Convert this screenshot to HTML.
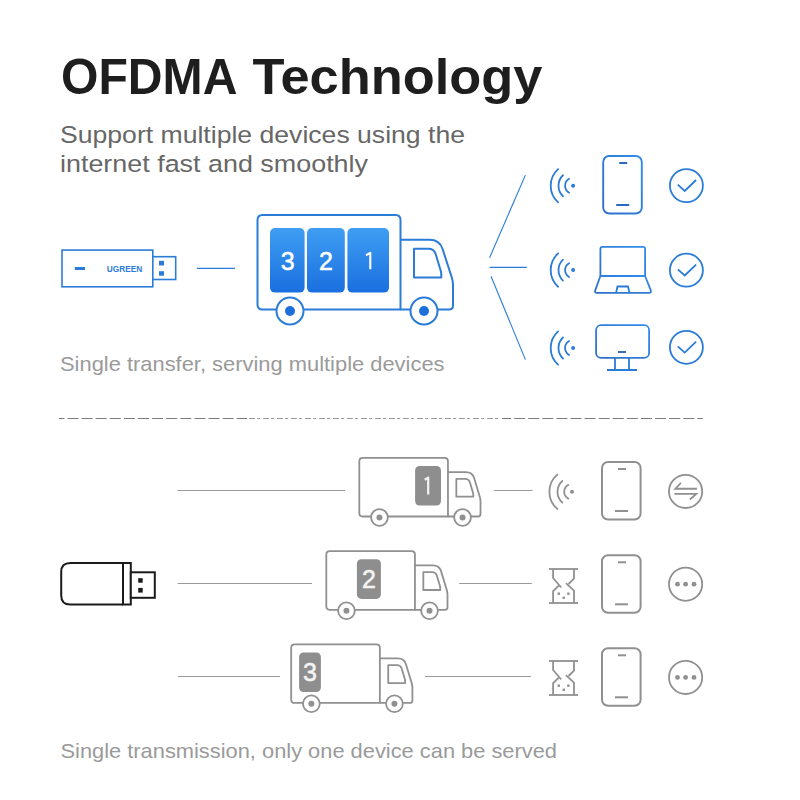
<!DOCTYPE html>
<html><head><meta charset="utf-8"><style>
html,body{margin:0;padding:0;background:#fff;}
svg{display:block;}
text{font-family:"Liberation Sans", sans-serif;}
</style></head><body>
<svg width="800" height="800" viewBox="0 0 800 800">
<rect width="800" height="800" fill="#fff"/>
<defs><linearGradient id="bg" x1="0" y1="0" x2="0" y2="1"><stop offset="0" stop-color="#3f9ef3"/><stop offset="1" stop-color="#1a6fdf"/></linearGradient><linearGradient id="dg" x1="0" y1="1" x2="1" y2="0"><stop offset="0" stop-color="#2d6fc6"/><stop offset="1" stop-color="#338ceb"/></linearGradient></defs>
<text x="61" y="94" font-family="Liberation Sans" font-weight="bold" font-size="50.5" fill="#1e1e1e" textLength="176.5" lengthAdjust="spacingAndGlyphs">OFDMA</text>
<text x="252.4" y="94" font-family="Liberation Sans" font-weight="bold" font-size="50.5" fill="#1e1e1e" textLength="290" lengthAdjust="spacingAndGlyphs">Technology</text>
<text x="60" y="142.5" font-family="Liberation Sans" font-size="24.5" fill="#676767" textLength="405" lengthAdjust="spacingAndGlyphs">Support multiple devices using the</text>
<text x="60" y="172" font-family="Liberation Sans" font-size="24.5" fill="#676767" textLength="308" lengthAdjust="spacingAndGlyphs">internet fast and smoothly</text>
<text x="60" y="370.75" font-family="Liberation Sans" font-size="21" fill="#9a9a9a" textLength="384.5" lengthAdjust="spacingAndGlyphs">Single transfer, serving multiple devices</text>
<text x="60.5" y="757.5" font-family="Liberation Sans" font-size="21" fill="#9a9a9a" textLength="496.5" lengthAdjust="spacingAndGlyphs">Single transmission, only one device can be served</text>
<rect x="62" y="250.1" width="90.8" height="36.7" fill="#fff" stroke="#2b7cd8" stroke-width="1.6"/>
<rect x="152.8" y="256.7" width="22.9" height="22.8" fill="#fff" stroke="#2b7cd8" stroke-width="1.6"/>
<rect x="159" y="260.8" width="5" height="4.7" fill="#2b7cd8"/>
<rect x="159" y="271.2" width="5" height="4.5" fill="#2b7cd8"/>
<rect x="74.8" y="267" width="10.2" height="3" fill="#2b7cd8"/>
<text x="106.7" y="271.7" font-family="Liberation Sans" font-weight="bold" font-size="8.3" fill="#2b7cd8" textLength="35.6" lengthAdjust="spacingAndGlyphs">UGREEN</text>
<line x1="196.8" y1="268.3" x2="235" y2="268.3" stroke="#2b7cd8" stroke-width="1.2"/>
<path d="M 400.50 309.50 L 400.50 220.00 Q 400.50 215.00 395.50 215.00 L 262.50 215.00 Q 257.50 215.00 257.50 220.00 L 257.50 304.50 Q 257.50 309.50 262.50 309.50 Z" fill="#fff" stroke="#2b7cd8" stroke-width="2" stroke-linejoin="round"/>
<rect x="270" y="228" width="34.6" height="64.6" rx="5" fill="url(#bg)"/>
<text x="287.8" y="270" text-anchor="middle" font-family="Liberation Sans" font-size="25" fill="#fff" stroke="#fff" stroke-width="0.5">3</text>
<rect x="307" y="228" width="37.8" height="64.6" rx="5" fill="url(#bg)"/>
<text x="325.9" y="270" text-anchor="middle" font-family="Liberation Sans" font-size="25" fill="#fff" stroke="#fff" stroke-width="0.5">2</text>
<rect x="347.4" y="228" width="41.6" height="64.6" rx="5" fill="url(#bg)"/>
<path d="M 370.3 269.3 V 252.9 L 366 255.2" fill="none" stroke="#fff" stroke-width="2.1" stroke-linejoin="round"/>
<path d="M 400.50 239.70 L 429.50 239.70 Q 439.60 239.70 442.60 249.00 L 451.80 277.50 Q 453.00 281.40 453.00 285.00 L 453.00 305.50 Q 453.00 309.50 449.00 309.50 L 400.50 309.50" fill="none" stroke="#2b7cd8" stroke-width="2" stroke-linejoin="round"/>
<path d="M 414.00 248.70 L 428.50 248.70 Q 433.50 248.70 435.50 253.50 L 440.80 271.00 Q 441.30 273.00 441.30 275.00 L 441.30 277.60 L 414.00 277.60 Z" fill="none" stroke="#2b7cd8" stroke-width="2" stroke-linejoin="round"/>
<circle cx="290.00" cy="311.00" r="13.50" fill="#fff" stroke="#2b7cd8" stroke-width="2"/>
<circle cx="290.00" cy="311.00" r="5.00" fill="#1d6fdc"/>
<circle cx="424.00" cy="311.00" r="13.50" fill="#fff" stroke="#2b7cd8" stroke-width="2"/>
<circle cx="424.00" cy="311.00" r="5.00" fill="#1d6fdc"/>
<line x1="525.4" y1="175.1" x2="489.6" y2="257.7" stroke="#2b7cd8" stroke-width="1.1"/>
<line x1="489.6" y1="267.4" x2="526.8" y2="267.4" stroke="#2b7cd8" stroke-width="1.1"/>
<line x1="491" y1="276.2" x2="525.4" y2="359.6" stroke="#2b7cd8" stroke-width="1.1"/>
<path d="M 558.11 169.10 A 22.4 22.4 0 0 0 558.11 202.40" fill="none" stroke="#2b7cd8" stroke-width="1.8" stroke-linecap="round"/>
<path d="M 562.96 175.25 A 14.6 14.6 0 0 0 562.96 196.25" fill="none" stroke="#2b7cd8" stroke-width="1.8" stroke-linecap="round"/>
<path d="M 569.10 178.82 A 8 8 0 0 0 569.10 192.68" fill="none" stroke="#2b7cd8" stroke-width="1.8" stroke-linecap="round"/>
<circle cx="573.1" cy="185.75" r="2" fill="#2b7cd8"/>
<path d="M 558.11 253.45 A 22.4 22.4 0 0 0 558.11 286.75" fill="none" stroke="#2b7cd8" stroke-width="1.8" stroke-linecap="round"/>
<path d="M 562.96 259.60 A 14.6 14.6 0 0 0 562.96 280.60" fill="none" stroke="#2b7cd8" stroke-width="1.8" stroke-linecap="round"/>
<path d="M 569.10 263.17 A 8 8 0 0 0 569.10 277.03" fill="none" stroke="#2b7cd8" stroke-width="1.8" stroke-linecap="round"/>
<circle cx="573.1" cy="270.1" r="2" fill="#2b7cd8"/>
<path d="M 558.11 331.35 A 22.4 22.4 0 0 0 558.11 364.65" fill="none" stroke="#2b7cd8" stroke-width="1.8" stroke-linecap="round"/>
<path d="M 562.96 337.50 A 14.6 14.6 0 0 0 562.96 358.50" fill="none" stroke="#2b7cd8" stroke-width="1.8" stroke-linecap="round"/>
<path d="M 569.10 341.07 A 8 8 0 0 0 569.10 354.93" fill="none" stroke="#2b7cd8" stroke-width="1.8" stroke-linecap="round"/>
<circle cx="573.1" cy="348" r="2" fill="#2b7cd8"/>
<rect x="603.2" y="156.0" width="38.6" height="57.5" rx="6" fill="#fff" stroke="url(#dg)" stroke-width="1.9"/><line x1="619.2" y1="163" x2="627.2" y2="163" stroke="#2a68bd" stroke-width="2"/><line x1="616.2" y1="205" x2="629.2" y2="205" stroke="#2a68bd" stroke-width="2"/>
<path d="M 600.4 276 V 249 Q 600.4 246.9 602.5 246.9 H 643 Q 645.1 246.9 645.1 249 V 276" fill="#fff" stroke="url(#dg)" stroke-width="1.8"/>
<path d="M 600.4 276 L 595.2 290.4 Q 594.4 292.9 597 292.9 H 649 Q 651.6 292.9 650.8 290.4 L 645.1 276 Z" fill="#fff" stroke="url(#dg)" stroke-width="1.8" stroke-linejoin="round"/>
<path d="M 616 292.9 L 617.5 286.5 H 628 L 629.5 292.9" fill="none" stroke="#2b7cd8" stroke-width="1.8"/>
<rect x="596.1" y="325.1" width="53" height="32.8" rx="5" fill="#fff" stroke="url(#dg)" stroke-width="1.8"/>
<line x1="618" y1="352" x2="626" y2="352" stroke="#2f64b0" stroke-width="1.9"/>
<path d="M 615 358 V 370 M 629 358 V 370 M 607 370 H 637" fill="none" stroke="#2b7cd8" stroke-width="1.8"/>
<circle cx="686.4" cy="185.6" r="16.5" fill="none" stroke="#2b7cd8" stroke-width="1.8"/><path d="M 677.8 184.7 L 684.6999999999999 190.9 L 696.1 180.0" fill="none" stroke="#2b7cd8" stroke-width="1.8"/>
<circle cx="686.4" cy="270.2" r="16.5" fill="none" stroke="#2b7cd8" stroke-width="1.8"/><path d="M 677.8 269.3 L 684.6999999999999 275.5 L 696.1 264.59999999999997" fill="none" stroke="#2b7cd8" stroke-width="1.8"/>
<circle cx="686.4" cy="347.3" r="16.5" fill="none" stroke="#2b7cd8" stroke-width="1.8"/><path d="M 677.8 346.40000000000003 L 684.6999999999999 352.6 L 696.1 341.7" fill="none" stroke="#2b7cd8" stroke-width="1.8"/>
<line x1="59" y1="418.5" x2="247" y2="418.5" stroke="#7c7c7c" stroke-width="1.1" stroke-dasharray="11 3.1" stroke-dashoffset="5.6"/>
<line x1="249" y1="418.5" x2="500" y2="418.5" stroke="#9a9a9a" stroke-width="1.1" stroke-dasharray="6 2 3 3"/>
<line x1="502" y1="418.5" x2="703" y2="418.5" stroke="#7c7c7c" stroke-width="1.1" stroke-dasharray="11 3.1" stroke-dashoffset="2"/>
<path d="M 123 563 H 70.2 Q 61.2 563 61.2 572 V 595.5 Q 61.2 604.5 70.2 604.5 H 123" fill="#fff" stroke="#1b1b1b" stroke-width="2"/>
<rect x="123" y="563" width="7.8" height="41.5" fill="#fff" stroke="#1b1b1b" stroke-width="2"/>
<rect x="130.8" y="572.3" width="24" height="25.5" fill="#fff" stroke="#1b1b1b" stroke-width="2"/>
<rect x="138.2" y="578.2" width="4.5" height="4.5" fill="#1b1b1b"/>
<rect x="138.2" y="587.9" width="4.5" height="4.7" fill="#1b1b1b"/>
<line x1="177.5" y1="490.5" x2="345" y2="490.5" stroke="#999" stroke-width="1.1"/>
<line x1="493.8" y1="490.5" x2="532.5" y2="490.5" stroke="#999" stroke-width="1.1"/>
<line x1="177.6" y1="583.5" x2="312" y2="583.5" stroke="#999" stroke-width="1.1"/>
<line x1="459.2" y1="583.5" x2="531.8" y2="583.5" stroke="#999" stroke-width="1.1"/>
<line x1="178" y1="676.5" x2="280" y2="676.5" stroke="#999" stroke-width="1.1"/>
<line x1="425" y1="676.5" x2="531" y2="676.5" stroke="#999" stroke-width="1.1"/>
<path d="M 447.96 516.49 L 447.96 461.40 Q 447.96 457.90 444.46 457.90 L 362.80 457.90 Q 359.30 457.90 359.30 461.40 L 359.30 512.99 Q 359.30 516.49 362.80 516.49 Z" fill="#fff" stroke="#909090" stroke-width="1.8" stroke-linejoin="round"/>
<rect x="415.10" y="466.00" width="25.9" height="39.6" rx="4.5" fill="#8e8e8e"/><path d="M 428.20 494.60 V 477.60 L 424.70 479.70" fill="none" stroke="#f4f4f4" stroke-width="2.2" stroke-linejoin="round"/>
<path d="M 447.96 472.04 L 465.94 472.04 Q 472.20 472.04 474.06 477.80 L 479.77 496.65 Q 480.51 499.07 480.51 501.30 L 480.51 514.01 Q 480.51 516.49 478.03 516.49 L 447.96 516.49" fill="none" stroke="#909090" stroke-width="1.8" stroke-linejoin="round"/>
<path d="M 456.33 478.79 L 465.32 478.79 Q 468.42 478.79 469.66 481.77 L 472.95 492.62 Q 473.26 493.86 473.26 495.10 L 473.26 496.71 L 456.33 496.71 Z" fill="none" stroke="#909090" stroke-width="1.8" stroke-linejoin="round"/>
<circle cx="379.45" cy="517.42" r="8.37" fill="#fff" stroke="#909090" stroke-width="1.8"/>
<circle cx="379.45" cy="517.42" r="3.00" fill="#909090"/>
<circle cx="462.53" cy="517.42" r="8.37" fill="#fff" stroke="#909090" stroke-width="1.8"/>
<circle cx="462.53" cy="517.42" r="3.00" fill="#909090"/>
<path d="M 414.96 609.79 L 414.96 554.70 Q 414.96 551.20 411.46 551.20 L 329.80 551.20 Q 326.30 551.20 326.30 554.70 L 326.30 606.29 Q 326.30 609.79 329.80 609.79 Z" fill="#fff" stroke="#909090" stroke-width="1.8" stroke-linejoin="round"/>
<rect x="356.90" y="559.30" width="24" height="39.6" rx="4.5" fill="#8e8e8e"/><text x="368.90" y="587.90" text-anchor="middle" font-family="Liberation Sans" font-size="25" fill="#f4f4f4" stroke="#f4f4f4" stroke-width="0.5">2</text>
<path d="M 414.96 565.34 L 432.94 565.34 Q 439.20 565.34 441.06 571.10 L 446.77 589.95 Q 447.51 592.37 447.51 594.60 L 447.51 607.31 Q 447.51 609.79 445.03 609.79 L 414.96 609.79" fill="none" stroke="#909090" stroke-width="1.8" stroke-linejoin="round"/>
<path d="M 423.33 572.09 L 432.32 572.09 Q 435.42 572.09 436.66 575.07 L 439.95 585.92 Q 440.26 587.16 440.26 588.40 L 440.26 590.01 L 423.33 590.01 Z" fill="none" stroke="#909090" stroke-width="1.8" stroke-linejoin="round"/>
<circle cx="346.45" cy="610.72" r="8.37" fill="#fff" stroke="#909090" stroke-width="1.8"/>
<circle cx="346.45" cy="610.72" r="3.00" fill="#909090"/>
<circle cx="429.53" cy="610.72" r="8.37" fill="#fff" stroke="#909090" stroke-width="1.8"/>
<circle cx="429.53" cy="610.72" r="3.00" fill="#909090"/>
<path d="M 379.86 702.89 L 379.86 647.80 Q 379.86 644.30 376.36 644.30 L 294.70 644.30 Q 291.20 644.30 291.20 647.80 L 291.20 699.39 Q 291.20 702.89 294.70 702.89 Z" fill="#fff" stroke="#909090" stroke-width="1.8" stroke-linejoin="round"/>
<rect x="299.10" y="652.40" width="21.8" height="39.6" rx="4.5" fill="#8e8e8e"/><text x="310.00" y="681.00" text-anchor="middle" font-family="Liberation Sans" font-size="25" fill="#f4f4f4" stroke="#f4f4f4" stroke-width="0.5">3</text>
<path d="M 379.86 658.44 L 397.84 658.44 Q 404.10 658.44 405.96 664.20 L 411.67 683.05 Q 412.41 685.47 412.41 687.70 L 412.41 700.41 Q 412.41 702.89 409.93 702.89 L 379.86 702.89" fill="none" stroke="#909090" stroke-width="1.8" stroke-linejoin="round"/>
<path d="M 388.23 665.19 L 397.22 665.19 Q 400.32 665.19 401.56 668.17 L 404.85 679.02 Q 405.16 680.26 405.16 681.50 L 405.16 683.11 L 388.23 683.11 Z" fill="none" stroke="#909090" stroke-width="1.8" stroke-linejoin="round"/>
<circle cx="311.35" cy="703.82" r="8.37" fill="#fff" stroke="#909090" stroke-width="1.8"/>
<circle cx="311.35" cy="703.82" r="3.00" fill="#909090"/>
<circle cx="394.43" cy="703.82" r="8.37" fill="#fff" stroke="#909090" stroke-width="1.8"/>
<circle cx="394.43" cy="703.82" r="3.00" fill="#909090"/>
<path d="M 557.32 474.56 A 22.6 22.6 0 0 0 557.32 508.94" fill="none" stroke="#909090" stroke-width="1.8" stroke-linecap="round"/>
<path d="M 562.30 480.97 A 14.5 14.5 0 0 0 562.30 502.53" fill="none" stroke="#909090" stroke-width="1.8" stroke-linecap="round"/>
<path d="M 568.34 484.86 A 7.8 7.8 0 0 0 568.34 498.64" fill="none" stroke="#909090" stroke-width="1.8" stroke-linecap="round"/>
<circle cx="572" cy="491.75" r="2" fill="#909090"/>
<line x1="549" y1="569" x2="578" y2="569" stroke="#909090" stroke-width="1.8"/>
<line x1="549" y1="603" x2="578" y2="603" stroke="#909090" stroke-width="1.8"/>
<path d="M 553.1 569 V 578 L 561.2 587.5" fill="none" stroke="#909090" stroke-width="1.8"/>
<path d="M 574 569 V 578.7 L 568.5 584" fill="none" stroke="#909090" stroke-width="1.8"/>
<path d="M 558.8 585.6 L 553.1 591.2 V 603" fill="none" stroke="#909090" stroke-width="1.8"/>
<path d="M 565.9 583.2 L 574 590.6 V 603" fill="none" stroke="#909090" stroke-width="1.8"/>
<rect x="557.55" y="592.5" width="2.4" height="2.4" fill="#909090"/>
<rect x="567.1999999999999" y="592.5" width="2.4" height="2.4" fill="#909090"/>
<rect x="562.55" y="596.5999999999999" width="2.4" height="2.4" fill="#909090"/>
<line x1="549" y1="661" x2="578" y2="661" stroke="#909090" stroke-width="1.8"/>
<line x1="549" y1="695" x2="578" y2="695" stroke="#909090" stroke-width="1.8"/>
<path d="M 553.1 661 V 670 L 561.2 679.5" fill="none" stroke="#909090" stroke-width="1.8"/>
<path d="M 574 661 V 670.7 L 568.5 676" fill="none" stroke="#909090" stroke-width="1.8"/>
<path d="M 558.8 677.6 L 553.1 683.2 V 695" fill="none" stroke="#909090" stroke-width="1.8"/>
<path d="M 565.9 675.2 L 574 682.6 V 695" fill="none" stroke="#909090" stroke-width="1.8"/>
<rect x="557.55" y="684.5" width="2.4" height="2.4" fill="#909090"/>
<rect x="567.1999999999999" y="684.5" width="2.4" height="2.4" fill="#909090"/>
<rect x="562.55" y="688.5999999999999" width="2.4" height="2.4" fill="#909090"/>
<rect x="602.0" y="462.0" width="38.6" height="57.5" rx="6" fill="#fff" stroke="#909090" stroke-width="2"/><line x1="618" y1="469" x2="626" y2="469" stroke="#909090" stroke-width="2"/><line x1="615" y1="511" x2="628" y2="511" stroke="#909090" stroke-width="2"/>
<rect x="602.0" y="555.3" width="38.6" height="57.5" rx="6" fill="#fff" stroke="#909090" stroke-width="2"/><line x1="618" y1="562.3" x2="626" y2="562.3" stroke="#909090" stroke-width="2"/><line x1="615" y1="604.3" x2="628" y2="604.3" stroke="#909090" stroke-width="2"/>
<rect x="602.0" y="648.3" width="38.6" height="57.5" rx="6" fill="#fff" stroke="#909090" stroke-width="2"/><line x1="618" y1="655.3" x2="626" y2="655.3" stroke="#909090" stroke-width="2"/><line x1="615" y1="697.3" x2="628" y2="697.3" stroke="#909090" stroke-width="2"/>
<circle cx="685.6" cy="491.4" r="16.6" fill="none" stroke="#909090" stroke-width="1.8"/><path d="M 696.9 488.75 H 675.3000000000001 L 680.9 482.79999999999995" fill="none" stroke="#909090" stroke-width="1.8"/><path d="M 674.4 493.9 H 696.25 L 689.9 499.5" fill="none" stroke="#909090" stroke-width="1.8"/>
<circle cx="685.6" cy="584.2" r="16.6" fill="none" stroke="#909090" stroke-width="1.8"/>
<circle cx="677.5" cy="584.2" r="2.4" fill="#909090"/>
<circle cx="685.6" cy="584.2" r="2.4" fill="#909090"/>
<circle cx="694.0" cy="584.2" r="2.4" fill="#909090"/>
<circle cx="685.6" cy="677.4" r="16.6" fill="none" stroke="#909090" stroke-width="1.8"/>
<circle cx="677.5" cy="677.4" r="2.4" fill="#909090"/>
<circle cx="685.6" cy="677.4" r="2.4" fill="#909090"/>
<circle cx="694.0" cy="677.4" r="2.4" fill="#909090"/>
</svg>
</body></html>
